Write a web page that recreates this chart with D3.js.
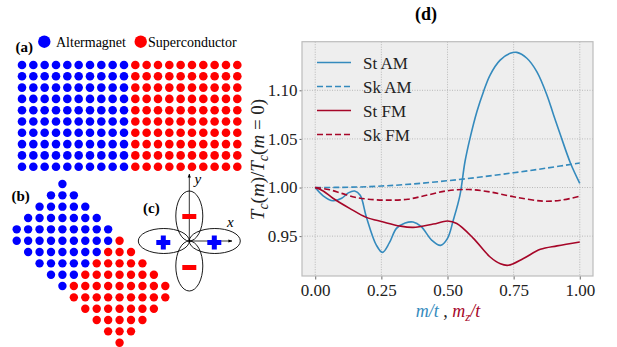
<!DOCTYPE html>
<html>
<head>
<meta charset="utf-8">
<script src="https://cdn.jsdelivr.net/npm/d3@7"></script>
<style>
  html, body { margin: 0; padding: 0; background: #fff; }
  svg { display: block; }
  svg text { font-family: "Liberation Serif", "Times New Roman", Times, serif; }
</style>
</head>
<body>
<svg id="svg" width="617" height="347"></svg>
<script>
// ---- panel (d) data ----
const stAmM   = [0, 0.03, 0.067, 0.10, 0.125, 0.149, 0.17, 0.193, 0.231, 0.254, 0.28, 0.307, 0.34, 0.37, 0.40, 0.44, 0.474, 0.50, 0.522, 0.547, 0.566, 0.585, 0.611, 0.636, 0.661, 0.699, 0.737, 0.762, 0.80, 0.838, 0.876, 0.901, 0.927, 0.965, 1.0];
const stAmTc  = [1.000, 0.9915, 0.9864, 0.989, 0.9945, 0.9964, 0.992, 0.970, 0.9408, 0.9333, 0.943, 0.958, 0.9635, 0.9645, 0.960, 0.946, 0.9405, 0.9477, 0.9666, 0.992, 1.0265, 1.0506, 1.078, 1.0986, 1.1157, 1.131, 1.138, 1.139, 1.133, 1.119, 1.095, 1.0746, 1.054, 1.025, 1.0043];

const skAmM   = [0, 0.125, 0.25, 0.375, 0.5, 0.625, 0.75, 0.875, 1.0];
const skAmTc  = [1.000, 1.0003, 1.0015, 1.0038, 1.007, 1.0108, 1.0152, 1.0200, 1.0252];

const stFmM   = [0, 0.03, 0.067, 0.13, 0.193, 0.254, 0.32, 0.37, 0.446, 0.50, 0.535, 0.598, 0.66, 0.70, 0.73, 0.787, 0.851, 0.914, 1.0];
const stFmTc  = [1.000, 0.9965, 0.989, 0.9786, 0.9693, 0.9648, 0.9604, 0.959, 0.9624, 0.9655, 0.963, 0.9477, 0.9288, 0.9215, 0.920, 0.927, 0.9364, 0.940, 0.944];

const skFmM   = [0, 0.05, 0.10, 0.15, 0.20, 0.27, 0.35, 0.42, 0.50, 0.58, 0.66, 0.75, 0.86, 0.93, 1.0];
const skFmTc  = [1.000, 0.998, 0.994, 0.990, 0.988, 0.987, 0.988, 0.992, 0.9967, 0.998, 0.9955, 0.9905, 0.986, 0.987, 0.991];

const xTicks = [0, 0.25, 0.5, 0.75, 1.0];
const yTicks = [0.95, 1.00, 1.05, 1.10];
const seriesNames = ['St AM', 'Sk AM', 'St FM', 'Sk FM'];

// ---- lattice sketches (a), (b) ----
const gridCols = 20, gridRows = 10, amCols = 10;
const diamondHalfWidths = [0, 1, 2, 3, 4, 4, 3, 2, 1, 0];

const BLUE = '#348ABD', RED = '#A60628';
const svg = d3.select('#svg');

// ================= panel (d) =================
const x = d3.scaleLinear().domain([-0.05, 1.05]).range([302, 593]);
const y = d3.scaleLinear().domain([0.909, 1.150]).range([276, 41.7]);

const plot = svg.append('g');
plot.append('rect')
  .attr('x', x(-0.05)).attr('y', y(1.150))
  .attr('width', x(1.05) - x(-0.05)).attr('height', y(0.909) - y(1.150))
  .attr('fill', '#eeeeee');

plot.append('g').selectAll('line').data(xTicks).enter().append('line')
  .attr('x1', d => x(d)).attr('x2', d => x(d))
  .attr('y1', y(1.150)).attr('y2', y(0.909))
  .attr('stroke', '#b2b2b2').attr('stroke-width', 0.9).attr('stroke-dasharray', '1,1.5');
plot.append('g').selectAll('line').data(yTicks).enter().append('line')
  .attr('y1', d => y(d)).attr('y2', d => y(d))
  .attr('x1', x(-0.05)).attr('x2', x(1.05))
  .attr('stroke', '#b2b2b2').attr('stroke-width', 0.9).attr('stroke-dasharray', '1,1.5');

const xAxis = plot.append('g')
  .attr('transform', `translate(0,${y(0.909)})`)
  .call(d3.axisBottom(x).tickValues(xTicks).tickFormat(d3.format('.2f')).tickSize(3.5).tickPadding(4));
const yAxis = plot.append('g')
  .attr('transform', `translate(${x(-0.05)},0)`)
  .call(d3.axisLeft(y).tickValues(yTicks).tickFormat(d3.format('.2f')).tickSize(2.5).tickPadding(2));
[xAxis, yAxis].forEach(a => {
  a.select('.domain').remove();
  a.selectAll('text').attr('font-size', 17).attr('fill', '#222');
  a.selectAll('line').attr('stroke', '#444').attr('stroke-width', 0.8);
});

plot.append('rect')
  .attr('x', x(-0.05)).attr('y', y(1.150))
  .attr('width', x(1.05) - x(-0.05)).attr('height', y(0.909) - y(1.150))
  .attr('fill', 'none').attr('stroke', '#bcbcbc').attr('stroke-width', 1.2);

const line = d3.line().x(d => x(d[0])).y(d => y(d[1])).curve(d3.curveCatmullRom.alpha(0.5));
const series = [
  {m: stAmM, v: stAmTc, color: BLUE, dash: null},
  {m: skAmM, v: skAmTc, color: BLUE, dash: '6,3'},
  {m: stFmM, v: stFmTc, color: RED, dash: null},
  {m: skFmM, v: skFmTc, color: RED, dash: '6,3'}
];
series.forEach(s => {
  plot.append('path')
    .datum(d3.zip(s.m, s.v))
    .attr('d', line)
    .attr('fill', 'none')
    .attr('stroke', s.color)
    .attr('stroke-width', 1.6)
    .attr('stroke-dasharray', s.dash);
});

// legend
const legend = plot.append('g');
series.forEach((s, i) => {
  const ly = 62.5 + 24 * i;
  legend.append('line')
    .attr('x1', 317).attr('x2', 351).attr('y1', ly).attr('y2', ly)
    .attr('stroke', s.color).attr('stroke-width', 1.6).attr('stroke-dasharray', s.dash);
  legend.append('text')
    .attr('x', 363).attr('y', ly + 6)
    .attr('font-size', 17).attr('fill', '#222')
    .text(seriesNames[i]);
});

// title
svg.append('text').attr('x', 426).attr('y', 20).attr('text-anchor', 'middle')
  .attr('font-size', 18).attr('font-weight', 'bold').text('(d)');

// y label  T_c(m)/T_c(m=0)
const yl = svg.append('text')
  .attr('transform', 'translate(264,159.5) rotate(-90)')
  .attr('text-anchor', 'middle')
  .attr('font-size', 19).attr('fill', '#222');
const ylParts = [
  ['T', true], ['c', true, 'sub'], ['(', false], ['m', true], [')/', false],
  ['T', true], ['c', true, 'sub'], ['(', false], ['m', true], [' = ', false], ['0)', false]
];
ylParts.forEach(p => {
  const t = yl.append('tspan').text(p[0]).attr('font-style', p[1] ? 'italic' : 'normal');
  if (p[2] === 'sub') t.attr('font-size', 14).attr('dy', 4);
  else if (p[0] === '(') t.attr('dy', -4);
});

// x label  m/t , m_z/t
const xl = svg.append('text')
  .attr('x', 448).attr('y', 317).attr('text-anchor', 'middle')
  .attr('font-size', 18).attr('font-style', 'italic');
xl.append('tspan').attr('fill', BLUE).text('m/t');
xl.append('tspan').attr('fill', '#222').attr('font-style', 'normal').text(' , ');
xl.append('tspan').attr('fill', RED).text('m');
xl.append('tspan').attr('fill', RED).attr('font-size', 13).attr('dy', 4).text('z');
xl.append('tspan').attr('fill', RED).attr('dy', -4).text('/t');

// ================= panel (a) =================
const ax = d3.scaleLinear().domain([0, gridCols - 1]).range([22, 237.3]);
const ay = d3.scaleLinear().domain([0, gridRows - 1]).range([65, 166.7]);
const gridPts = d3.cross(d3.range(gridCols), d3.range(gridRows));
svg.append('g').selectAll('circle').data(gridPts).enter().append('circle')
  .attr('cx', d => ax(d[0])).attr('cy', d => ay(d[1])).attr('r', 4.3)
  .attr('fill', d => d[0] < amCols ? '#0000ff' : '#ff0000');

svg.append('text').attr('x', 15.5).attr('y', 51.5).attr('font-size', 15)
  .attr('font-weight', 'bold').text('(a)');
svg.append('circle').attr('cx', 44.3).attr('cy', 41.7).attr('r', 6.2).attr('fill', '#0000ff');
svg.append('text').attr('x', 56).attr('y', 46.5).attr('font-size', 14).text('Altermagnet');
svg.append('circle').attr('cx', 140.7).attr('cy', 41.7).attr('r', 6.2).attr('fill', '#ff0000');
svg.append('text').attr('x', 148).attr('y', 46.5).attr('font-size', 14).text('Superconductor');

// ================= panel (b) =================
const bx = d3.scaleLinear().domain([0, 13]).range([16.7, 165.3]);
const by = d3.scaleLinear().domain([0, 14]).range([184, 342.7]);
const diamond = [];
diamondHalfWidths.forEach((h, r) => {
  d3.range(4 - h, 4 + h + 1).forEach(c => diamond.push({c: c, r: r, am: true}));
  d3.range(9 - h, 9 + h + 1).forEach(c => diamond.push({c: c, r: r + 5, am: false}));
});
svg.append('g').selectAll('circle').data(diamond).enter().append('circle')
  .attr('cx', d => bx(d.c)).attr('cy', d => by(d.r)).attr('r', 4.2)
  .attr('fill', d => d.am ? '#0000ff' : '#ff0000');
svg.append('text').attr('x', 11.5).attr('y', 201).attr('font-size', 15)
  .attr('font-weight', 'bold').text('(b)');

// ================= panel (c) =================
const cx = 189.3, cy = 241;
const clover = svg.append('g');
svg.append('defs').append('marker')
  .attr('id', 'arr').attr('viewBox', '0 0 10 10').attr('refX', 9).attr('refY', 5)
  .attr('markerWidth', 5).attr('markerHeight', 5).attr('orient', 'auto')
  .append('path').attr('d', 'M0,1 L10,5 L0,9 Z').attr('fill', '#000');
clover.append('line').attr('x1', cx).attr('y1', cy).attr('x2', cx).attr('y2', 174)
  .attr('stroke', '#000').attr('stroke-width', 0.8).attr('marker-end', 'url(#arr)');
clover.append('line').attr('x1', cx).attr('y1', cy).attr('x2', 232).attr('y2', cy)
  .attr('stroke', '#000').attr('stroke-width', 0.8).attr('marker-end', 'url(#arr)');
[[0, -25, 13.5, 25], [0, 25, 13.5, 25], [-25.5, 0, 25.5, 12.5], [25.5, 0, 25.5, 12.5]].forEach(e => {
  clover.append('ellipse').attr('cx', cx + e[0]).attr('cy', cy + e[1])
    .attr('rx', e[2]).attr('ry', e[3])
    .attr('fill', 'none').attr('stroke', '#000').attr('stroke-width', 0.9);
});
[-24.5, 26.5].forEach(dy => {
  clover.append('rect').attr('x', cx - 7).attr('y', cy + dy - 2.5)
    .attr('width', 14).attr('height', 5).attr('fill', '#ff0000');
});
[-26, 25].forEach(dx => {
  clover.append('rect').attr('x', cx + dx - 7).attr('y', cy + 1.5 - 2.5)
    .attr('width', 14).attr('height', 5).attr('fill', '#0000ff');
  clover.append('rect').attr('x', cx + dx - 2.5).attr('y', cy + 1.5 - 7)
    .attr('width', 5).attr('height', 14).attr('fill', '#0000ff');
});
clover.append('text').attr('x', 194.5).attr('y', 184).attr('font-size', 15)
  .attr('font-style', 'italic').text('y');
clover.append('text').attr('x', 227).attr('y', 227).attr('font-size', 15)
  .attr('font-style', 'italic').text('x');
svg.append('text').attr('x', 143).attr('y', 213).attr('font-size', 15)
  .attr('font-weight', 'bold').text('(c)');
</script>
</body>
</html>
